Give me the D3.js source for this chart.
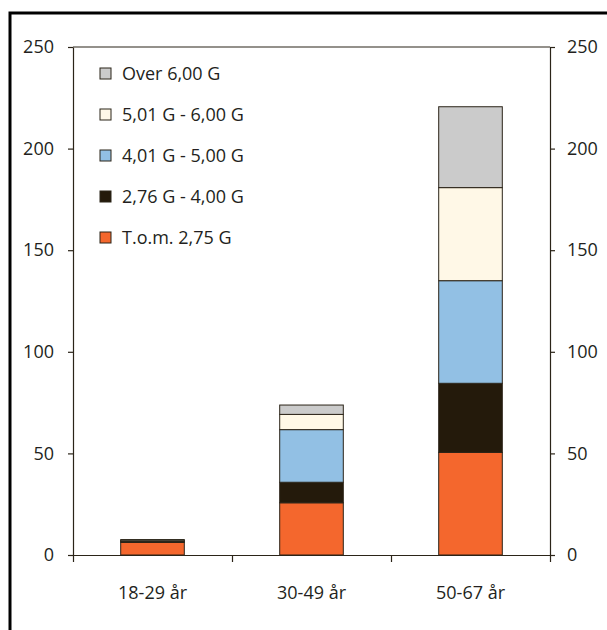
<!DOCTYPE html>
<html>
<head>
<meta charset="utf-8">
<script src="https://cdn.jsdelivr.net/npm/d3@7"></script>
<style>
  html, body { margin: 0; padding: 0; background: #fff; }
  svg { display: block; }
  text { font-family: "Open Sans", "Noto Sans", sans-serif; fill: #231f20; }
</style>
</head>
<body>
<svg id="chart" width="607" height="630"></svg>
<script>
// Age groups on the x axis
const categories = ["18-29 år", "30-49 år", "50-67 år"];

// Income bands, bottom to top of each stack
const seriesNames = ["T.o.m. 2,75 G", "2,76 G - 4,00 G", "4,01 G - 5,00 G", "5,01 G - 6,00 G", "Over 6,00 G"];
const seriesColors = ["#f4672d", "#241a0b", "#92c0e4", "#fff8e7", "#cbcbcb"];

// Values per band, one entry per age group
const band1 = [6.2, 25.7, 50.5];
const band2 = [0.6, 10.1, 34.0];
const band3 = [0.1, 25.9, 50.5];
const band4 = [0.1, 7.5, 45.8];
const band5 = [0.6, 4.6, 39.8];

const yTicks = [0, 50, 100, 150, 200, 250];

const svg = d3.select("#chart");
const ink = "#2b2418";

// Outer frame (left and top rule)
svg.append("path")
  .attr("d", "M10,630V13H607")
  .attr("fill", "none")
  .attr("stroke", "#000")
  .attr("stroke-width", 3);

const plotLeft = 73, plotRight = 550, plotTop = 47, plotBottom = 555;

const x = d3.scaleBand().domain(categories).range([plotLeft, plotRight])
  .paddingInner(0.6).paddingOuter(0.3);
const y = d3.scaleLinear().domain([0, 250]).range([plotBottom, plotTop]);
const xEdge = d3.scaleLinear().domain([0, categories.length]).range([plotLeft, plotRight]);

const table = categories.map((c, i) => {
  const row = { cat: c };
  [band1, band2, band3, band4, band5].forEach((arr, k) => row[seriesNames[k]] = arr[i]);
  return row;
});
const stacked = d3.stack().keys(seriesNames)(table);

// Bars
const g = svg.append("g");
stacked.forEach((layer, k) => {
  g.selectAll(null).data(layer.filter(d => d[1] - d[0] > 0)).join("rect")
    .attr("x", d => x(d.data.cat))
    .attr("width", x.bandwidth())
    .attr("y", d => y(d[1]))
    .attr("height", d => y(d[0]) - y(d[1]))
    .attr("fill", seriesColors[k])
    .attr("stroke", ink)
    .attr("stroke-width", 1);
});

function styleAxis(sel) {
  sel.selectAll("path, line").attr("stroke", ink).attr("stroke-width", 1.2);
  sel.selectAll("text").attr("font-size", 18).attr("fill", "#231f20")
    .style("font-family", "'Open Sans', 'Noto Sans', sans-serif");
}

// Left and right value axes
svg.append("g").attr("transform", `translate(${plotLeft},0)`)
  .call(d3.axisLeft(y).tickValues(yTicks).tickSize(5).tickSizeOuter(0).tickPadding(14))
  .call(styleAxis);
svg.append("g").attr("transform", `translate(${plotRight},0)`)
  .call(d3.axisRight(y).tickValues(yTicks).tickSize(5).tickSizeOuter(0).tickPadding(12))
  .call(styleAxis);

// Top rule at the axis maximum
svg.append("line")
  .attr("x1", plotLeft).attr("x2", plotRight)
  .attr("y1", y(250)).attr("y2", y(250))
  .attr("stroke", ink).attr("stroke-width", 1.2);

// Baseline with category separators
svg.append("g").attr("transform", `translate(0,${plotBottom})`)
  .call(d3.axisBottom(xEdge).tickValues(d3.range(categories.length + 1))
    .tickFormat("").tickSize(7).tickSizeOuter(0))
  .call(styleAxis);

// Category labels
svg.append("g").selectAll("text").data(categories).join("text")
  .attr("x", d => x(d) + x.bandwidth() / 2)
  .attr("y", 599)
  .attr("text-anchor", "middle")
  .attr("font-size", 18)
  .text(d => d);

// Legend, highest band first
const legendOrder = d3.range(seriesNames.length).reverse();
const lg = svg.append("g");
legendOrder.forEach((k, i) => {
  const ly = 68 + i * 41;
  lg.append("rect")
    .attr("x", 100).attr("y", ly)
    .attr("width", 11).attr("height", 11)
    .attr("fill", seriesColors[k])
    .attr("stroke", ink).attr("stroke-width", 1);
  lg.append("text")
    .attr("x", 122).attr("y", ly + 12)
    .attr("font-size", 18)
    .text(seriesNames[k]);
});
</script>
</body>
</html>
